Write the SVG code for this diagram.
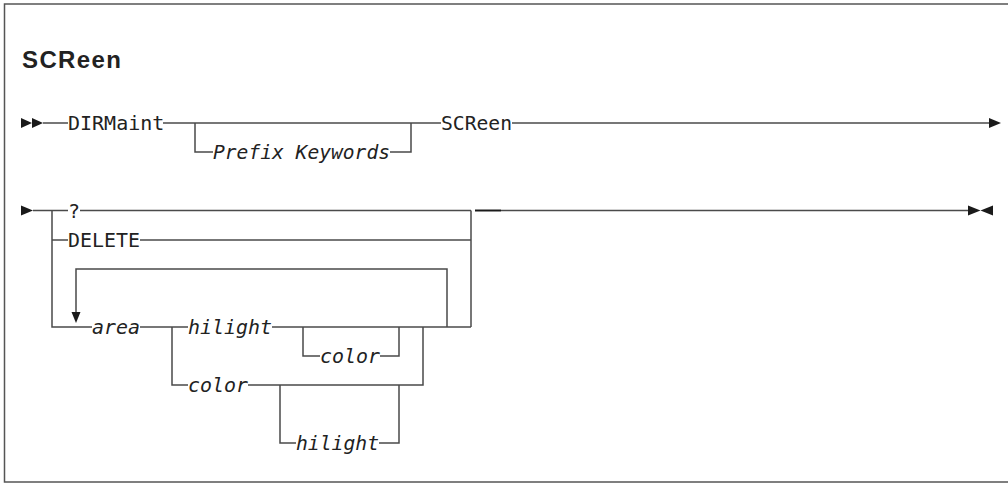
<svg xmlns="http://www.w3.org/2000/svg" width="1008" height="483" viewBox="0 0 1008 483">
<style>
.frame{fill:none;stroke:#555;stroke-width:1.5}
.ln{fill:none;stroke:#4a4a4a;stroke-width:1.5}
.dk{fill:none;stroke:#1a1a1a;stroke-width:2}
.ah{fill:#1a1a1a;stroke:none}
.kw{font-family:"DejaVu Sans Mono","Liberation Mono",monospace;font-size:20px;fill:#222}
.var{font-family:"DejaVu Sans Mono","Liberation Mono",monospace;font-size:20px;font-style:italic;fill:#222}
.title{font-family:"Liberation Sans",Arial,sans-serif;font-size:24px;font-weight:bold;fill:#222}
</style>
<rect width="1008" height="483" fill="#fff"/>
<path class="frame" d="M1008,4 H4.5 V482 H1008"/>
<text class="title" x="22" y="67.5" textLength="99" lengthAdjust="spacing">SCReen</text>

<g id="connectors">
  <!-- row 1 -->
  <path class="ln" d="M43,123 H68"/>
  <path class="ln" d="M163,123 H441"/>
  <path class="ln" d="M195,123 V152 H213"/>
  <path class="ln" d="M390,152 H411 V123"/>
  <path class="ln" d="M512,123 H990"/>
  <polygon class="ah" points="21,118 32,123 21,128"/>
  <polygon class="ah" points="32,118 43,123 32,128"/>
  <polygon class="ah" points="989,118 1001,123 989,128"/>
  <!-- row 2 -->
  <polygon class="ah" points="21,205.5 33,210.5 21,215.5"/>
  <path class="ln" d="M33,210.5 H68"/>
  <path class="ln" d="M80,210.5 H471"/>
  <path class="dk" d="M475,210.5 H501"/>
  <path class="ln" d="M501,210.5 H969"/>
  <polygon class="ah" points="968,205.5 980.5,210.5 968,215.5"/>
  <polygon class="ah" points="993,205.5 980.5,210.5 993,215.5"/>
  <path class="ln" d="M52,210.5 V327 H92"/>
  <path class="ln" d="M52,240 H68"/>
  <path class="ln" d="M140,240 H471"/>
  <path class="ln" d="M471,210.5 V327"/>
  <!-- repeat loop -->
  <path class="ln" d="M76,314 V269 H447 V327"/>
  <polygon class="ah" points="71.5,312 80.5,312 76,323"/>
  <!-- area row -->
  <path class="ln" d="M140,327 H188"/>
  <path class="ln" d="M272,327 H471"/>
  <path class="ln" d="M303,327 V356 H320"/>
  <path class="ln" d="M380,356 H399 V327"/>
  <path class="ln" d="M172,327 V385 H188"/>
  <path class="ln" d="M248,385 H423 V327"/>
  <path class="ln" d="M280,385 V443 H296"/>
  <path class="ln" d="M379,443 H399 V385"/>
</g>

<g id="n-dirmaint"><text class="kw" x="68" y="130">DIRMaint</text></g>
<g id="n-prefix"><text class="var" x="213" y="159" textLength="177" lengthAdjust="spacingAndGlyphs">Prefix Keywords</text></g>
<g id="n-screen"><text class="kw" x="441" y="130" textLength="71" lengthAdjust="spacingAndGlyphs">SCReen</text></g>
<g id="n-question"><text class="kw" x="68" y="217.5">?</text></g>
<g id="n-delete"><text class="kw" x="68" y="247" textLength="72" lengthAdjust="spacingAndGlyphs">DELETE</text></g>
<g id="n-area"><text class="var" x="92" y="334" textLength="48" lengthAdjust="spacingAndGlyphs">area</text></g>
<g id="n-hilight1"><text class="var" x="188" y="334" textLength="84" lengthAdjust="spacingAndGlyphs">hilight</text></g>
<g id="n-color1"><text class="var" x="320" y="363" textLength="60" lengthAdjust="spacingAndGlyphs">color</text></g>
<g id="n-color2"><text class="var" x="188" y="392" textLength="60" lengthAdjust="spacingAndGlyphs">color</text></g>
<g id="n-hilight2"><text class="var" x="296" y="450" textLength="83" lengthAdjust="spacingAndGlyphs">hilight</text></g>
</svg>
